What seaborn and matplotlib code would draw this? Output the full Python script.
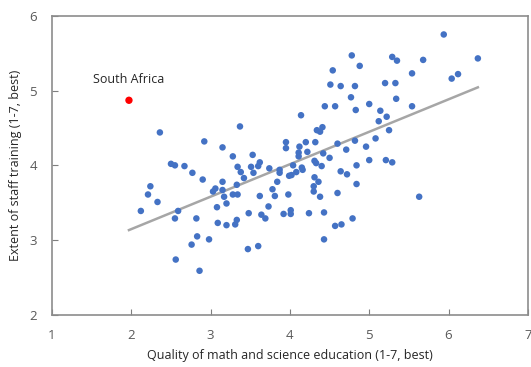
import numpy as np
import pandas as pd
import matplotlib
matplotlib.use('Agg')
import matplotlib.pyplot as plt
import seaborn as sns

# country values
math_edu = [2.36, 3.37, 2.92, 3.15, 3.28, 3.53, 2.50, 2.55, 2.67, 2.77,
            2.90, 2.24, 2.21, 2.33, 2.12, 2.59, 2.55, 2.82, 2.83, 2.76,
            2.98, 2.56, 2.86, 3.15, 3.06, 3.03, 3.15, 3.17, 3.28, 3.34,
            3.33, 3.34, 3.38, 3.42, 3.51, 3.54, 3.60, 3.62, 3.74, 3.87,
            3.87, 3.99, 4.02, 4.08, 3.84, 3.78, 3.81, 3.98, 3.62, 3.20,
            3.08, 3.73, 3.48, 3.64, 3.69, 3.92, 4.01, 4.01, 3.09, 3.20,
            3.31, 3.33, 3.47, 3.60, 4.24, 4.43, 4.38, 4.30, 4.30, 4.36,
            4.31, 4.60, 4.64, 4.72, 4.84, 4.84, 5.00, 5.21, 5.29, 5.63,
            4.79, 4.57, 4.65, 4.43, 4.40, 4.50, 4.31, 4.33, 4.04, 4.15,
            4.16, 4.11, 4.11, 4.22, 4.71, 4.42, 3.95, 3.95, 4.12, 4.20,
            4.32, 4.34, 4.38, 4.41, 4.14, 4.60, 4.82, 4.96, 5.08, 5.25,
            5.12, 5.22, 5.14, 5.00, 5.34, 5.54, 4.44, 4.57, 4.83, 4.77,
            4.51, 4.64, 4.82, 5.20, 5.33, 4.54, 4.78, 4.88, 5.29, 5.35,
            5.54, 5.68, 5.94, 6.04, 6.12, 6.37]
staff_training = [4.44, 4.52, 4.32, 4.24, 4.12, 4.14, 4.02, 4.00, 3.99, 3.90,
                  3.81, 3.72, 3.61, 3.51, 3.39, 3.39, 3.29, 3.29, 3.05, 2.94,
                  3.01, 2.74, 2.59, 3.78, 3.69, 3.65, 3.67, 3.58, 3.61, 3.61,
                  3.74, 3.98, 3.91, 3.83, 3.98, 3.90, 3.99, 4.04, 3.96, 3.94,
                  3.90, 3.86, 3.87, 3.91, 3.78, 3.68, 3.59, 3.61, 3.59, 3.49,
                  3.44, 3.45, 3.36, 3.34, 3.29, 3.35, 3.40, 3.35, 3.23, 3.20,
                  3.21, 3.27, 2.88, 2.92, 3.36, 3.37, 3.58, 3.65, 3.72, 3.78,
                  3.84, 3.63, 3.92, 3.88, 4.00, 3.75, 4.07, 4.07, 4.04, 3.58,
                  3.29, 3.19, 3.21, 3.01, 3.99, 4.10, 4.06, 4.03, 4.00, 3.97,
                  3.94, 4.17, 4.12, 4.18, 4.21, 4.16, 4.31, 4.23, 4.25, 4.31,
                  4.31, 4.47, 4.45, 4.51, 4.67, 4.29, 4.33, 4.25, 4.36, 4.47,
                  4.59, 4.65, 4.73, 4.82, 4.89, 4.79, 4.79, 4.79, 4.74, 4.91,
                  5.08, 5.06, 5.06, 5.10, 5.10, 5.27, 5.47, 5.33, 5.45, 5.40,
                  5.23, 5.41, 5.75, 5.16, 5.22, 5.43]

sa_name = 'South Africa'
sa_math = 1.97
sa_staff = 4.87

df = pd.DataFrame({'math': math_edu, 'staff': staff_training})
all_df = pd.concat([df, pd.DataFrame({'math': [sa_math], 'staff': [sa_staff]})],
                   ignore_index=True)

plt.rcParams['font.family'] = ['Open Sans', 'DejaVu Sans']

fig = plt.figure(figsize=(5.31, 3.67), dpi=100)
ax = fig.add_axes([0.098, 0.142, 0.896, 0.815])

# trend line over all countries (incl. South Africa)
sns.regplot(data=all_df, x='math', y='staff', scatter=False, ci=None, ax=ax,
            line_kws={'color': '#A6A6A6', 'lw': 1.8, 'zorder': 1})

sns.scatterplot(data=df, x='math', y='staff', color='#4472C4', s=22,
                edgecolor='none', ax=ax, zorder=2)
ax.scatter([sa_math], [sa_staff], color='#FF0000', s=28, edgecolor='none', zorder=3)
ax.text(sa_math, 5.15, sa_name, ha='center', va='center', fontsize=9,
        color='#262626')

ax.set_xlim(1, 7)
ax.set_ylim(2, 6)
ax.set_xticks(range(1, 8))
ax.set_yticks(range(2, 7))
ax.set_xlabel('Quality of math and science education (1-7, best)', fontsize=9,
              color='#262626', labelpad=5)
ax.set_ylabel('Extent of staff training (1-7, best)', fontsize=9, color='#262626',
              labelpad=5)
ax.tick_params(direction='in', length=4, colors='#7F7F7F', labelcolor='#595959',
               labelsize=9.5)
ax.tick_params(axis='x', pad=10)
ax.tick_params(axis='y', pad=11)
for s in ax.spines.values():
    s.set_color('#8C8C8C')
    s.set_linewidth(1.2)

plt.savefig('out.png', dpi=100)
